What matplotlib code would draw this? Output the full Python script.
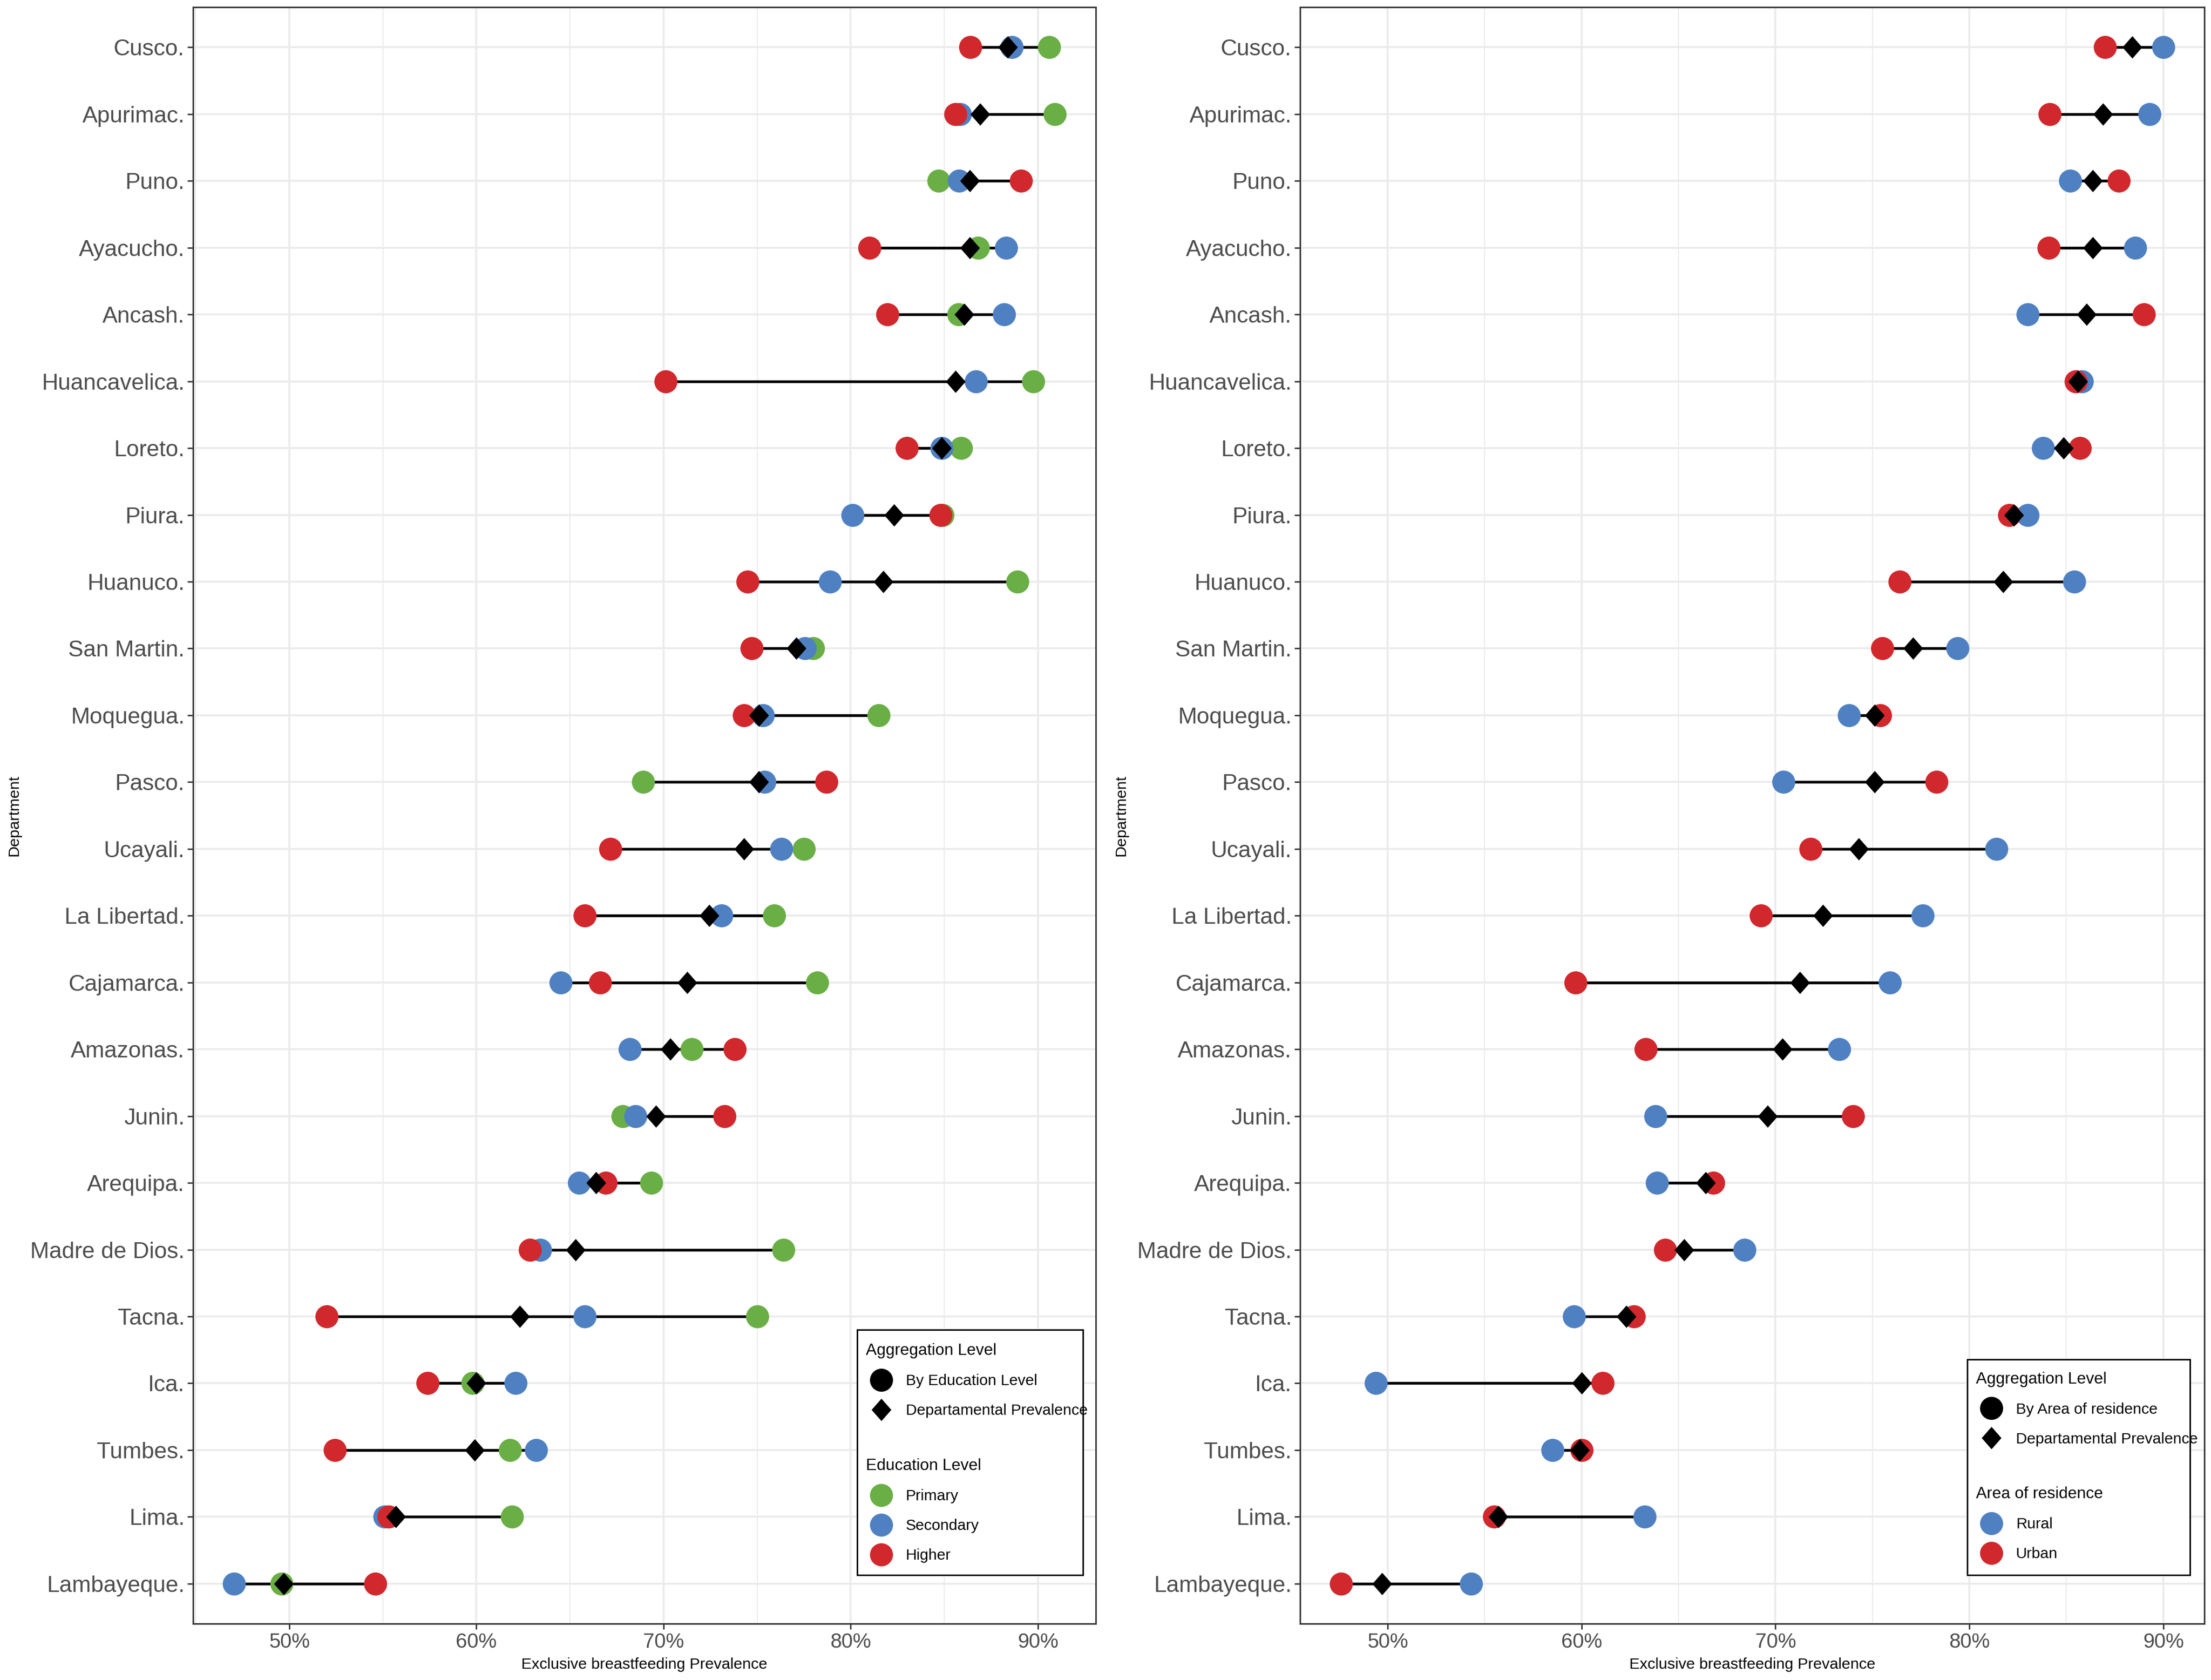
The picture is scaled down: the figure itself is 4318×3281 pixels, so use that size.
import numpy as np
import matplotlib
matplotlib.use("Agg")
import matplotlib.pyplot as plt
from matplotlib.lines import Line2D
from matplotlib.patches import Rectangle
from matplotlib.path import Path
from matplotlib.ticker import MultipleLocator, FuncFormatter

plt.rcParams["font.family"] = ["Liberation Sans", "DejaVu Sans"]

# departments, top to bottom
departments = ["Cusco.", "Apurimac.", "Puno.", "Ayacucho.", "Ancash.", "Huancavelica.",
               "Loreto.", "Piura.", "Huanuco.", "San Martin.", "Moquegua.", "Pasco.",
               "Ucayali.", "La Libertad.", "Cajamarca.", "Amazonas.", "Junin.", "Arequipa.",
               "Madre de Dios.", "Tacna.", "Ica.", "Tumbes.", "Lima.", "Lambayeque."]

dept_prev = [88.4, 86.9, 86.35, 86.35, 86.05, 85.6, 84.85, 82.3, 81.75, 77.1, 75.1, 75.1,
             74.3, 72.45, 71.25, 70.35, 69.6, 66.4, 65.3, 62.3, 60.0, 59.9, 55.7, 49.7]

# by education level
edu_primary = [90.6, 90.9, 84.7, 86.8, 85.75, 89.75, 85.9, 84.9, 88.9, 78.0, 81.5, 68.9,
               77.5, 75.9, 78.2, 71.5, 67.8, 69.35, 76.4, 75.0, 59.8, 61.8, 61.9, 49.6]
edu_secondary = [88.6, 85.85, 85.8, 88.3, 88.2, 86.7, 84.85, 80.1, 78.9, 77.55, 75.3, 75.4,
                 76.3, 73.1, 64.5, 68.2, 68.5, 65.5, 63.4, 65.8, 62.1, 63.2, 55.1, 47.05]
edu_higher = [86.4, 85.6, 89.1, 81.0, 81.95, 70.1, 83.0, 84.8, 74.5, 74.7, 74.3, 78.7,
              67.15, 65.8, 66.6, 73.8, 73.25, 66.9, 62.85, 52.0, 57.4, 52.45, 55.3, 54.6]

# by area of residence
area_rural = [90.0, 89.3, 85.2, 88.55, 83.0, 85.8, 83.8, 83.0, 85.4, 79.4, 73.8, 70.4,
              81.4, 77.6, 75.9, 73.3, 63.8, 63.9, 68.4, 59.6, 49.4, 58.5, 63.25, 54.3]
area_urban = [87.0, 84.15, 87.7, 84.1, 89.0, 85.5, 85.7, 82.05, 76.4, 75.5, 75.4, 78.3,
              71.8, 69.25, 59.7, 63.3, 74.0, 66.8, 64.3, 62.7, 61.1, 60.0, 55.5, 47.6]

GREEN = "#6AAF46"
BLUE = "#4F81C2"
RED = "#D0282D"
DIAMOND = Path([(0, 1), (0.88, 0), (0, -1), (-0.88, 0), (0, 1)], closed=True)


def draw_panel(ax, groups, agg_label, group_title, leg_box, leg_y1, leg_y2):
    y = np.arange(len(departments))[::-1]
    allvals = np.column_stack([g[1] for g in groups] + [dept_prev])

    ax.hlines(y, allvals.min(axis=1), allvals.max(axis=1), color="black", lw=1.3, zorder=2)
    for name, vals, col in groups:
        ax.plot(vals, y, "o", ms=10.8, color=col, mec="none", zorder=3)
    ax.plot(dept_prev, y, marker=DIAMOND, ls="none", ms=10.5, color="black", mec="none", zorder=4)

    lo, hi = allvals.min(), allvals.max()
    pad = 0.05 * (hi - lo)
    ax.set_xlim(lo - pad, hi + pad)
    ax.set_ylim(-0.6, len(departments) - 0.4)

    ax.set_yticks(y)
    ax.set_yticklabels(departments)
    ax.xaxis.set_major_locator(MultipleLocator(10))
    ax.xaxis.set_minor_locator(MultipleLocator(5))
    ax.xaxis.set_major_formatter(FuncFormatter(lambda v, p: f"{v:.0f}%"))

    ax.grid(True, which="major", color="#EBEBEB", lw=0.9, zorder=0)
    ax.grid(True, which="minor", axis="x", color="#EBEBEB", lw=0.5, zorder=0)
    ax.set_axisbelow(True)
    ax.tick_params(axis="both", which="major", length=2.6, width=0.66, color="#333333")
    ax.tick_params(axis="x", which="minor", length=0)
    ax.tick_params(axis="y", labelsize=10.7, labelcolor="#4D4D4D", pad=1.3)
    ax.tick_params(axis="x", labelsize=9.6, labelcolor="#4D4D4D", pad=1.5)
    for s in ax.spines.values():
        s.set_color("#333333")
        s.set_linewidth(0.7)

    ax.set_xlabel("Exclusive breastfeeding Prevalence", fontsize=7.3)
    ax.xaxis.set_label_coords(0.5, -0.021)
    ax.set_ylabel("Department", fontsize=7.3)
    ax.yaxis.set_label_coords(-0.19, 0.5)

    # legend frame
    x0, y0, x1, y1 = leg_box
    ax.add_patch(Rectangle((x0, y0), x1 - x0, y1 - y0, transform=ax.transAxes,
                           facecolor="white", edgecolor="black", lw=0.7, zorder=5))
    lx = x0 + 0.0095
    common = dict(loc="upper left", frameon=False, fontsize=7.2, title_fontsize=7.6,
                  alignment="left", borderpad=0, borderaxespad=0, labelspacing=1.0,
                  handletextpad=0.6, handlelength=2.0)
    h1 = [Line2D([], [], marker="o", ls="none", color="black", ms=10.8, mec="none"),
          Line2D([], [], marker=DIAMOND, ls="none", color="black", ms=10.5, mec="none")]
    leg1 = ax.legend(h1, [agg_label, "Departamental Prevalence"], title="Aggregation Level",
                     bbox_to_anchor=(lx, leg_y1), **common)
    leg1.set_zorder(6)
    ax.add_artist(leg1)
    h2 = [Line2D([], [], marker="o", ls="none", color=col, ms=10.8, mec="none")
          for _, _, col in groups]
    leg2 = ax.legend(h2, [g[0] for g in groups], title=group_title,
                     bbox_to_anchor=(lx, leg_y2), **common)
    leg2.set_zorder(6)


fig = plt.figure(figsize=(4318 / 300, 3281 / 300), dpi=300)
ax_l = fig.add_axes([0.0873, 0.0335, 0.4083, 0.9622])
ax_r = fig.add_axes([0.588, 0.0335, 0.409, 0.9622])

draw_panel(ax_l,
           [("Primary", edu_primary, GREEN), ("Secondary", edu_secondary, BLUE),
            ("Higher", edu_higher, RED)],
           "By Education Level", "Education Level",
           (0.7357, 0.0301, 0.9858, 0.1818), 0.1735, 0.1022)
draw_panel(ax_r,
           [("Rural", area_rural, BLUE), ("Urban", area_urban, RED)],
           "By Area of residence", "Area of residence",
           (0.738, 0.0301, 0.984, 0.1634), 0.1560, 0.0848)

fig.savefig("out.png", dpi=300)
